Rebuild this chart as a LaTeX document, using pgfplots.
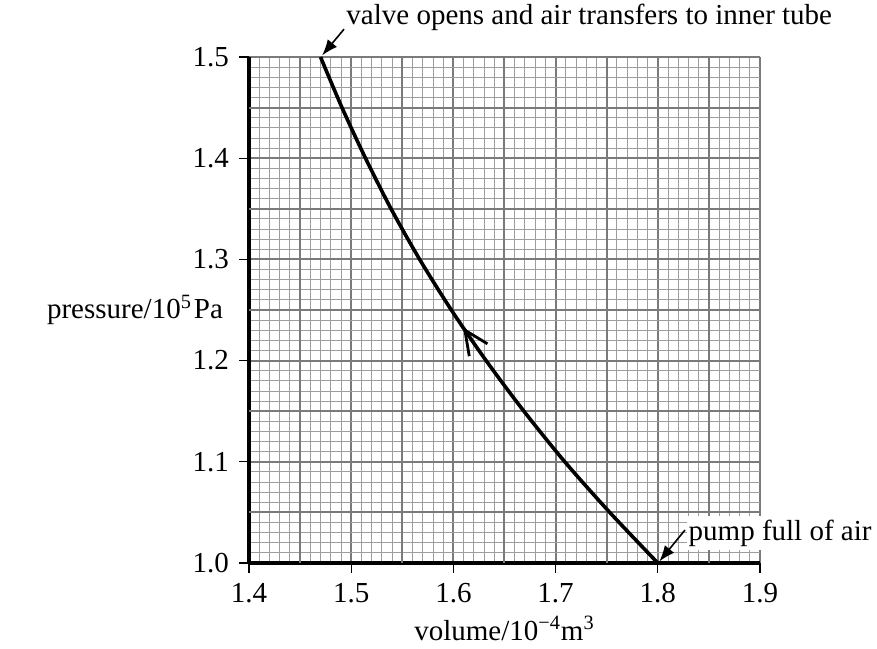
\documentclass[border=0pt]{standalone}
\usepackage{fontspec}
\setmainfont{Liberation Serif}
\usepackage{pgfplots}
\pgfplotsset{compat=1.18}
\usetikzlibrary{arrows.meta,decorations.markings}
\pgfplotstableread{
V      p
1.800  1.00
1.753  1.05
1.709  1.10
1.669  1.15
1.632  1.20
1.598  1.25
1.567  1.30
1.539  1.35
1.514  1.40
1.491  1.45
1.470  1.50
}\curvedata
\begin{document}
\fontsize{14.5}{17}\selectfont
\begin{tikzpicture}
\path[use as bounding box] (-124.5pt,-42.5pt) rectangle (314pt,281.5pt);
\begin{axis}[
  at={(0,0)}, anchor=south west,
  scale only axis, width=255.5pt, height=253pt,
  xmin=1.4, xmax=1.9, ymin=1.0, ymax=1.5,
  clip=false,
  axis lines=left,
  axis line style={line width=2pt, -, black},
  xtick={1.4,1.5,1.6,1.7,1.8,1.9},
  ytick={1.0,1.1,1.2,1.3,1.4,1.5},
  minor x tick num=9, minor y tick num=9,
  extra x ticks={1.45,1.55,1.65,1.75,1.85},
  extra y ticks={1.05,1.15,1.25,1.35,1.45},
  extra x tick labels={}, extra y tick labels={},
  extra tick style={grid=major, major tick length=0pt},
  grid=both,
  major grid style={line width=1pt, color=black!52},
  minor grid style={line width=0.45pt, color=black!38},
  minor tick length=0pt,
  tick align=outside,
  major tick length=5pt,
  tick style={black, line width=0.6pt},
  /pgf/number format/assume math mode=true,
  tick label style={font=\fontsize{14.5}{17}\selectfont},
  xticklabel style={/pgf/number format/.cd, fixed, fixed zerofill, precision=1},
  yticklabel style={/pgf/number format/.cd, fixed, fixed zerofill, precision=1},
  xlabel={volume/10\textsuperscript{−4}m\textsuperscript{3}},
  every axis x label/.style={at={(axis description cs:0.5,0)}, anchor=base, yshift=-38.5pt, font=\fontsize{14.5}{17}\selectfont},
  ylabel={pressure/10\textsuperscript{5}\kern1pt Pa},
  every axis y label/.style={at={(ticklabel* cs:0.5)}, anchor=east, xshift=-8pt, font=\fontsize{14.5}{17}\selectfont},
]
\addplot[black, line width=1.8pt, smooth,
  postaction={decorate},
  decoration={markings, mark=at position 0.5 with {\arrow[line width=1.4pt]{Straight Barb[length=12pt, width=11pt]}}}]
  table[x=V, y=p] {\curvedata};
\draw[-{Latex[length=8pt,width=6pt]}, line width=0.8pt] (axis cs:1.493,1.5275) -- (axis cs:1.4715,1.5015);
\node[anchor=base west, inner sep=0pt, font=\fontsize{14.5}{17}\selectfont] at (axis cs:1.495,1.532) {valve opens and air transfers to inner tube};
\draw[-{Latex[length=8pt,width=6pt]}, line width=0.8pt] (axis cs:1.8266,1.0326) -- (axis cs:1.8015,1.0015);
\node[anchor=base west, fill=white, inner xsep=1pt, inner ysep=2pt, font=\fontsize{14.5}{17}\selectfont] at (axis cs:1.8279,1.0227) {pump full of air};
\end{axis}
\end{tikzpicture}
\end{document}
